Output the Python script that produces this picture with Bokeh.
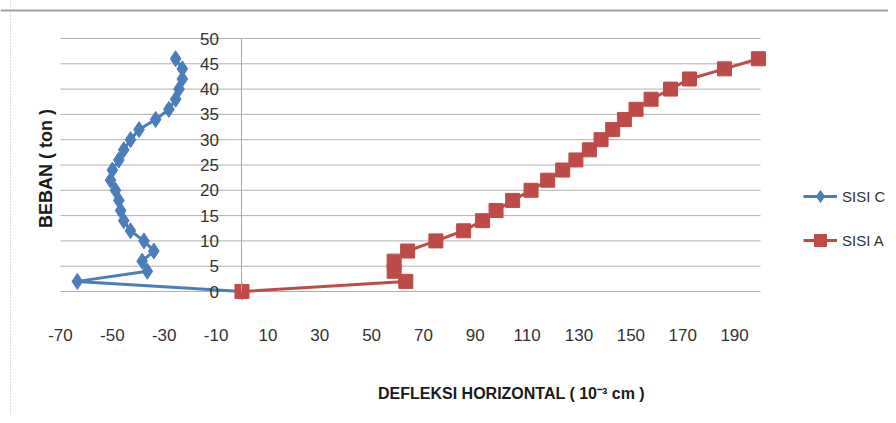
import math
from bokeh.plotting import figure
from bokeh.models import Range1d, FixedTicker, Legend, LegendItem, Label, Span
from bokeh.embed import file_html
from bokeh.resources import INLINE

# Load (ton)
beban = [0, 2, 4, 6, 8, 10, 12, 14, 16, 18, 20, 22, 24, 26, 28, 30, 32, 34, 36, 38, 40, 42, 44, 46]
# Horizontal deflection (10^-3 cm)
sisi_c = [0, -63.5, -36.5, -38.5, -34, -37.8, -43, -45.6, -46.8, -47.5, -48.8, -50.7,
          -50, -47.5, -45.6, -43, -39.7, -33.3, -28.2, -25.6, -24.3, -23, -23, -25.6]
sisi_a = [0, 63.2, 58.7, 58.7, 63.9, 74.8, 85.5, 92.8, 98, 104.4, 111.5, 117.9,
          123.7, 128.8, 134, 138.5, 143, 147.5, 152, 157.8, 165.3, 172.6, 186.1, 199.2]

x_ticks = [-70, -50, -30, -10, 10, 30, 50, 70, 90, 110, 130, 150, 170, 190]
y_ticks = [0, 5, 10, 15, 20, 25, 30, 35, 40, 45, 50]
X_MIN, X_MAX = -70, 200
Y_MIN, Y_MAX = 0, 50

FONT = "Liberation Sans"
BLUE = "#4A7EBB"
RED = "#BE4B48"
TXT = "#333333"

# ---- layout in pixels ----
W, H = 888, 415
PLOT_LEFT_PX = 60         # pixel of x = -70
PLOT_RIGHT_PX = 760       # pixel of x = 200
PLOT_TOP_PX = 38          # pixel of y = 50
PLOT_BOTTOM_PX = 291      # pixel of y = 0
kx = (PLOT_RIGHT_PX - PLOT_LEFT_PX) / (X_MAX - X_MIN)
ky = (PLOT_BOTTOM_PX - PLOT_TOP_PX) / (Y_MAX - Y_MIN)


def px_x(px):
    return X_MIN + (px - PLOT_LEFT_PX) / kx


def px_y(py):
    return Y_MIN + (PLOT_BOTTOM_PX - py) / ky


p = figure(width=W, height=H, output_backend="svg", toolbar_location=None,
           x_range=Range1d(px_x(0), px_x(W)), y_range=Range1d(px_y(H), px_y(0)),
           min_border_left=0, min_border_right=0, min_border_top=0, min_border_bottom=0)
p.outline_line_color = None
p.background_fill_color = "white"
p.xgrid.visible = False
p.ygrid.visible = False

# horizontal gridlines limited to the plot area
p.segment(x0=[X_MIN] * len(y_ticks), x1=[X_MAX] * len(y_ticks), y0=y_ticks, y1=y_ticks,
          line_color="#b0b0b0", line_width=1)

# x axis: labels only, placed below y = 0
p.xaxis.fixed_location = 0
p.xaxis.ticker = FixedTicker(ticks=x_ticks)
p.xaxis.major_label_overrides = {t: str(t) for t in x_ticks}
p.xaxis.axis_line_color = None
p.xaxis.major_tick_line_color = None
p.xaxis.minor_tick_line_color = None
p.xaxis.major_label_standoff = 31
p.xaxis.major_label_text_font = FONT
p.xaxis.major_label_text_font_size = "17px"
p.xaxis.major_label_text_color = TXT

# y axis crossing at x = 0
p.yaxis.fixed_location = 0
p.yaxis.bounds = (Y_MIN, Y_MAX)
p.yaxis.ticker = FixedTicker(ticks=y_ticks)
p.yaxis.axis_line_color = "#a6a6a6"
p.yaxis.axis_line_width = 1
p.yaxis.major_tick_line_color = None
p.yaxis.minor_tick_line_color = None
p.yaxis.major_label_standoff = 17
p.yaxis.major_label_text_font = FONT
p.yaxis.major_label_text_font_size = "17px"
p.yaxis.major_label_text_color = TXT

lc = p.line(sisi_c, beban, line_color=BLUE, line_width=3)
sc = p.scatter(sisi_c, beban, marker="diamond", size=16, fill_color=BLUE, line_color=BLUE)
la = p.line(sisi_a, beban, line_color=RED, line_width=3)
sa = p.scatter(sisi_a, beban, marker="square", size=14, fill_color=RED, line_color=RED)

# chart border lines (top solid, left dotted)
p.add_layout(Span(location=px_y(10), dimension="width", line_color="#a0a0a0", line_width=2))
p.add_layout(Span(location=px_x(10), dimension="height", line_color="#b8b8b8",
                  line_width=1, line_dash="1 2"))

# axis titles
p.add_layout(Label(x=px_x(45), y=px_y(168), text="BEBAN ( ton )", angle=math.pi / 2,
                   text_align="center", text_baseline="middle",
                   text_font=FONT, text_font_size="18px", text_font_style="bold",
                   text_color="#1a1a1a"))
p.add_layout(Label(x=px_x(511), y=px_y(393),
                   text="DEFLEKSI HORIZONTAL ( 10\u207b\u00b3 cm )",
                   text_align="center", text_baseline="middle",
                   text_font=FONT, text_font_size="16px", text_font_style="bold",
                   text_color="#1a1a1a"))

legend = Legend(items=[LegendItem(label="SISI C", renderers=[lc, sc]),
                       LegendItem(label="SISI A", renderers=[la, sa])],
                location=(803, H - 255), margin=0, padding=0, spacing=14,
                glyph_width=34, glyph_height=30, label_standoff=5,
                label_text_font=FONT, label_text_font_size="15px", label_text_color=TXT,
                border_line_color=None, background_fill_alpha=0)
p.add_layout(legend, "center")

open("out.html", "w").write(file_html(p, INLINE))
